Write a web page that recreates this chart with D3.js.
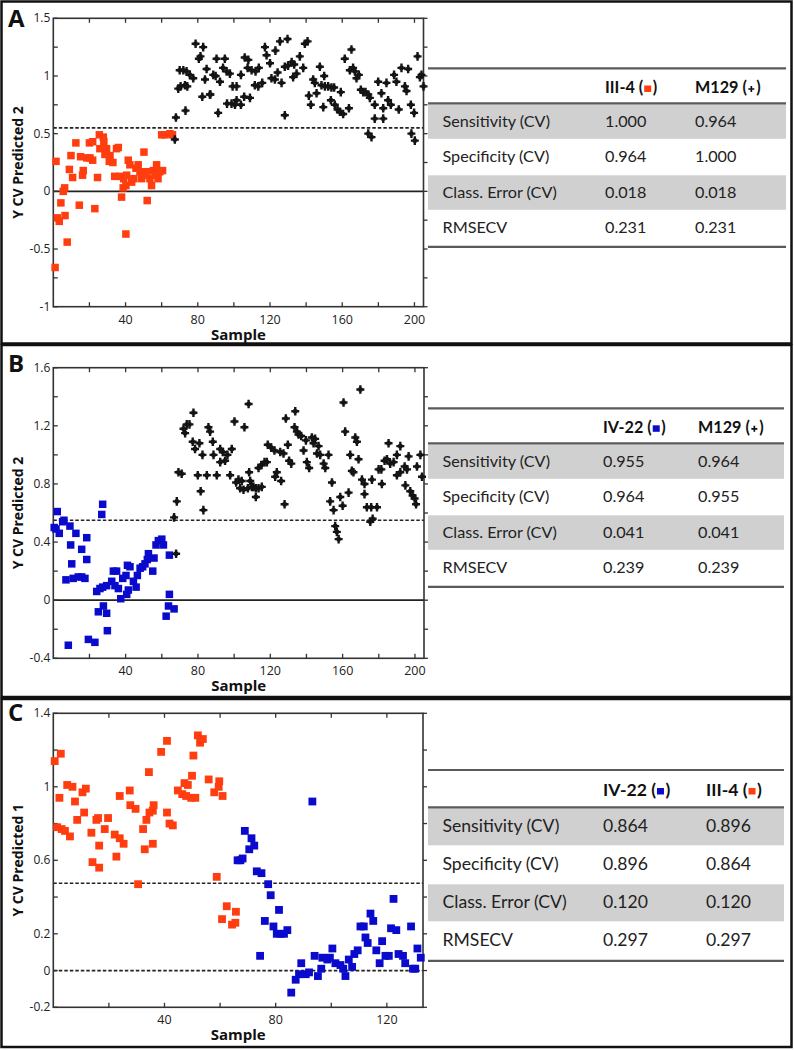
<!DOCTYPE html>
<html><head><meta charset="utf-8">
<script src="https://cdn.jsdelivr.net/npm/d3@7"></script>
<style>
html,body{margin:0;padding:0;background:#fff;}
svg{display:block;}
</style></head>
<body>
<svg id="chart" width="794" height="1050"></svg>
<script>
// ---------------- DATA ----------------
// Panel A: [sample, Y CV predicted 2]
const panelA_III4 = [[1,-0.66],[1.5,0.26],[2.2,-0.23],[3.3,-0.26],[4.2,-0.10],[5.5,0.0],[6.3,0.03],[6.5,-0.21],[7.7,-0.44],[8.9,0.19],[9.8,0.31],[10.7,0.12],[12.5,0.42],[14.4,-0.12],[15.1,0.30],[16.2,0.14],[16.6,0.18],[18.5,0.29],[20,0.42],[20.3,0.29],[21.8,0.43],[21.8,0.27],[23,-0.15],[24.5,0.12],[25.5,0.49],[25.8,0.37],[27.7,0.47],[28,0.43],[28.6,0.32],[29.5,0.37],[31,0.26],[31.4,0.31],[33,0.25],[34,0.13],[35,0.37],[36,0.38],[36.9,0.13],[37.8,-0.05],[38.7,0.03],[39,0.11],[40.2,-0.37],[40.2,0.05],[40.6,0.14],[41.5,0.27],[42.4,0.23],[43.4,0.08],[44.6,0.11],[45.8,0.20],[47,0.23],[48,0.17],[48.9,0.11],[50.2,0.34],[50.7,0.14],[51.7,0.17],[52,-0.08],[53.5,0.11],[54.4,0.05],[55.4,0.18],[56.3,0.14],[57.2,0.23],[58,0.11],[59,0.17],[60.5,0.18],[60,0.49],[61.8,0.49],[64.6,0.50],[66,0.49]];
const panelA_M129 = [[67.3,0.45],[67.9,0.64],[69.2,0.89],[70,1.05],[70.5,0.91],[72,1.05],[72.9,0.92],[73.2,0.70],[73.8,1.04],[74.2,0.91],[75.6,1.01],[77.5,0.98],[78.8,1.28],[80.6,1.15],[81.5,1.17],[82.5,0.82],[83,1.25],[84,0.97],[84.9,1.06],[86.7,0.84],[87,0.84],[88.6,1.01],[89.9,1.0],[90.4,1.15],[91.3,0.68],[92.3,0.95],[94,1.07],[95,1.15],[96,1.04],[96.2,0.76],[97.8,1.02],[98.7,0.76],[99.3,0.91],[100.6,0.75],[101.5,0.91],[101.5,0.79],[103.9,0.75],[103.9,1.01],[105.7,0.82],[106,1.16],[107.6,1.07],[108,1.14],[108.9,0.81],[109.8,1.05],[111.6,0.92],[112,1.04],[113.5,0.91],[113.8,1.07],[115.7,0.94],[117.2,1.25],[118.1,1.18],[120,1.11],[120.8,0.98],[122.7,0.97],[123,1.22],[124.2,1.03],[125.5,1.30],[126.4,0.94],[128.2,0.66],[128.2,1.08],[129.7,1.32],[130,1.09],[132,1.12],[132.8,0.99],[133.4,1.10],[134.7,1.02],[136.5,1.17],[138.4,1.07],[139.3,1.28],[140.8,1.30],[141.5,0.83],[142.6,0.75],[143.9,0.97],[144.8,0.94],[145.8,0.85],[147.6,1.08],[148.5,0.92],[149.5,0.73],[150,1.0],[150.4,0.91],[152.2,0.91],[153.7,0.79],[154,0.90],[155.5,0.90],[155.9,0.75],[157.4,0.71],[158.7,0.69],[159.2,0.86],[160.5,0.67],[161.4,1.15],[163.7,0.72],[164.2,1.05],[165.1,1.23],[166,1.07],[167,1.04],[167.9,0.98],[169.2,1.01],[170.3,0.88],[171.6,0.86],[172.9,0.86],[174.4,0.84],[174.4,0.50],[175.3,0.81],[176.2,0.47],[178,0.75],[178,0.63],[179.9,0.95],[181.7,0.85],[182.7,0.63],[182.7,0.72],[184.5,0.94],[185.4,0.79],[186.9,0.75],[188.7,1.01],[190,0.95],[191.3,0.71],[192.8,1.07],[194.7,0.91],[195.6,0.87],[196.5,1.06],[198,0.75],[198.3,0.50],[199.8,0.68],[200.2,0.44],[201.7,1.17],[203,0.99],[203.9,1.01],[205,0.91]];

// Panel B: [sample, Y CV predicted 2]
const panelB_IV22 = [[0.5,0.50],[1.5,0.49],[2.2,0.61],[3.3,0.46],[5.2,0.54],[5.9,0.55],[7,0.14],[8.3,-0.31],[9.2,0.51],[9.6,0.38],[10.2,0.25],[11,0.15],[12.5,0.46],[13.8,0.16],[15.7,0.16],[15.7,0.35],[17.5,0.15],[18.5,0.43],[18.5,0.28],[19.4,-0.27],[23,-0.29],[24,0.06],[24.9,-0.08],[25.8,0.08],[26.8,0.59],[27.3,0.66],[27.3,0.09],[27.7,-0.04],[29.5,-0.09],[29.5,0.10],[29.9,-0.21],[32.3,0.13],[33.2,0.20],[34.1,0.10],[35,0.20],[36,0.08],[37.3,0.01],[38.4,0.15],[40.2,0.17],[40.6,0.04],[41,0.24],[41.5,0.07],[42.4,0.23],[44.3,0.13],[45.8,0.09],[46.5,0.17],[48,0.22],[49.4,0.23],[50.7,0.25],[52,0.28],[52.6,0.32],[55,0.20],[55.7,0.29],[56.8,0.38],[58.1,0.41],[60,0.42],[60.9,0.38],[62.4,-0.11],[63.7,-0.04],[64.2,0.31],[64.2,0.04],[66.8,-0.06]];
const panelB_M129 = [[66.8,0.57],[67.9,0.32],[68.3,0.68],[69.2,0.88],[71,0.87],[72,1.18],[72.9,1.15],[73.8,1.21],[75.3,1.21],[77.1,1.09],[77.5,1.29],[78.4,1.04],[79.9,0.86],[80.8,1.08],[81.5,0.75],[82.5,1.0],[83,0.62],[84.9,0.86],[85.8,1.19],[86.7,1.16],[88.2,1.09],[88.6,1.0],[90.4,0.86],[92.3,1.04],[92.3,0.95],[93.7,1.02],[95,0.96],[96.3,1.0],[97.8,0.86],[98.7,1.04],[100.2,1.23],[101.1,0.81],[102.4,0.83],[103.3,0.77],[104.2,0.82],[105.2,0.76],[105.7,1.19],[107.6,0.77],[108,1.35],[108.3,0.88],[108.9,0.82],[109.8,0.78],[110.7,0.78],[112,0.77],[112,0.71],[113.5,0.77],[113.5,0.91],[115,0.93],[115.3,0.78],[116.8,0.95],[118.1,0.95],[118.6,1.07],[120.5,1.05],[122.3,1.03],[122.7,0.85],[123.6,0.88],[125.5,1.02],[126,0.82],[127.3,1.01],[127.9,0.66],[128.6,1.25],[129.7,1.07],[130.4,0.96],[131.6,0.94],[133.4,1.19],[133.8,1.30],[134.7,1.16],[135.6,1.14],[137.1,1.13],[138.4,1.03],[139.7,1.10],[140.2,0.95],[141.5,0.91],[143,1.12],[143.9,1.08],[144.8,1.11],[145.8,1.01],[146.7,1.06],[147.6,1.0],[149.5,0.94],[150.4,0.91],[152.2,1.0],[153.1,0.68],[154.1,0.81],[155,0.62],[155.9,0.51],[156.8,0.47],[157.8,0.42],[158.7,0.71],[160,0.65],[160.5,1.36],[161.4,1.16],[163.3,0.74],[164.2,1.0],[165.1,0.89],[166,0.88],[167,1.12],[167.9,1.09],[168.8,0.97],[169.8,1.45],[170.7,0.83],[172.1,0.80],[172.1,0.73],[173.4,0.64],[175.3,0.54],[175.8,0.64],[176.2,0.83],[176.6,0.56],[179,0.64],[179.9,0.90],[181.4,0.90],[181.7,0.80],[183.2,0.96],[184.5,0.97],[185.4,1.08],[186.3,0.94],[188.2,0.95],[190,1.0],[190,0.86],[191.9,1.06],[191.9,0.88],[194.3,0.92],[194.7,0.79],[195.6,0.90],[196.5,0.99],[197.4,0.75],[198.7,0.72],[199.8,0.70],[200.6,0.66],[201.1,0.92],[203,1.0],[203.9,0.85]];

// Panel C: [sample, Y CV predicted 1]
const panelC_III4 = [[0.5,1.14],[1.4,0.78],[2.2,0.94],[2.7,1.18],[3,0.77],[4.2,0.76],[5,1.01],[6,0.73],[6.9,1.0],[7.8,0.92],[8.6,0.82],[10.5,0.97],[11.1,0.86],[11.7,0.99],[13.7,0.75],[14.1,0.59],[15.5,0.82],[16.1,0.83],[16.5,0.68],[16.5,0.56],[18.5,0.77],[19.7,0.83],[22.1,0.74],[22.7,0.62],[23.9,0.72],[23.9,0.95],[25.3,0.69],[27.5,0.98],[27.7,0.90],[29.6,0.88],[30.5,0.47],[32.3,0.77],[32.9,0.66],[33.5,0.82],[34.4,1.08],[34.6,0.86],[35.8,0.87],[35.8,0.69],[36.1,0.90],[38.8,1.19],[40.9,1.25],[40.9,0.86],[41.8,0.80],[43,0.79],[44.8,0.98],[46.4,0.96],[47.2,1.02],[47.8,0.95],[48.4,1.01],[49.6,0.94],[49.9,1.06],[50.4,1.17],[51.1,0.94],[52,1.28],[52.8,1.24],[53.8,1.26],[55.9,1.04],[57.9,0.97],[58.8,0.51],[59.5,1.0],[59.7,1.03],[60.7,0.28],[60.9,0.95],[62.4,0.35],[64.3,0.25],[65.5,0.26],[65.7,0.32]];
const panelC_IV22 = [[66.3,0.60],[67.3,0.60],[68.1,0.61],[68.9,0.76],[70.5,0.66],[71.3,0.72],[72.3,0.68],[73.2,0.54],[74.4,0.08],[74.9,0.53],[76.1,0.27],[77.3,0.47],[78.2,0.41],[79.2,0.24],[80.4,0.20],[81.2,0.33],[81.8,0.20],[83,0.20],[84.2,0.22],[85.6,-0.12],[87.2,-0.05],[88.4,-0.02],[89.2,0.04],[90.8,-0.02],[92,-0.01],[93.2,0.92],[94,0.08],[95.2,-0.03],[96.4,0.01],[96.8,0.07],[98.6,0.06],[99.5,0.07],[100.4,0.12],[101.5,0.04],[103.3,0.03],[104.3,0.01],[105.1,-0.03],[106.3,0.06],[107.5,0.02],[108.3,0.09],[109.5,0.11],[110.5,0.24],[111.7,0.24],[112.3,0.18],[113.1,0.15],[114.1,0.31],[115.1,0.27],[116.2,0.11],[117.4,0.04],[118.3,0.16],[119.5,0.08],[120.7,0.08],[121.5,0.23],[122.4,0.39],[123.4,0.22],[124.2,0.09],[125.8,0.08],[126.6,0.04],[128.7,0.24],[129.4,0.01],[130.2,0.01],[131,0.12],[132.2,0.07]];

// Axis tick labels
const xTickLabelsAB = [40, 80, 120, 160, 200];
const xTickLabelsC = [40, 80, 120];
const yTickLabelsA = ["1.5","1","0.5","0","-0.5","-1"];
const yTickLabelsB = ["1.6","1.2","0.8","0.4","0","-0.4"];
const yTickLabelsC = ["1.4","1","0.6","0.2","0","-0.2"];

// Class thresholds
const thresholdA = 0.55, thresholdB = 0.55, thresholdC = 0.475;

// Table contents
const tableRowLabels = ["Sensitivity (CV)", "Specificity (CV)", "Class. Error (CV)", "RMSECV"];
const tableA_cols = ["III-4", "M129"];
const tableA_col1 = ["1.000", "0.964", "0.018", "0.231"];
const tableA_col2 = ["0.964", "1.000", "0.018", "0.231"];
const tableB_cols = ["IV-22", "M129"];
const tableB_col1 = ["0.955", "0.964", "0.041", "0.239"];
const tableB_col2 = ["0.964", "0.955", "0.041", "0.239"];
const tableC_cols = ["IV-22", "III-4"];
const tableC_col1 = ["0.864", "0.896", "0.120", "0.297"];
const tableC_col2 = ["0.896", "0.864", "0.120", "0.297"];

// ---------------- STYLE ----------------
const RED = "#ff3d0f", BLUE = "#0a0acc", INK = "#141414";
const svg = d3.select("#chart");
const tableFont = "Lato, 'Open Sans', sans-serif";
const axisFont = "'Open Sans', 'Noto Sans', sans-serif";

// Panel frames
[[1.5,1.5,790,342],[1.5,345,790,352],[1.5,699,790,348]].forEach(([x,y,w,h])=>{
  svg.append("rect").attr("x",x).attr("y",y).attr("width",w).attr("height",h)
    .attr("fill","none").attr("stroke","#111").attr("stroke-width",2.5);
});

function plusPath(g, data, x, y){
  g.selectAll(null).data(data).enter().append("path")
    .attr("d", d => { const cx=x(d[0]), cy=y(d[1]); return `M${cx-4},${cy}H${cx+4}M${cx},${cy-4.3}V${cy+4.3}`; })
    .attr("stroke", INK).attr("stroke-width", 2.4).attr("fill","none");
  g.selectAll(null).data(data).enter().append("rect")
    .attr("x", d=>x(d[0])-2).attr("y", d=>y(d[1])-2).attr("width",4).attr("height",4).attr("fill",INK);
}
function squares(g, data, x, y, color, s){
  g.selectAll(null).data(data).enter().append("rect")
    .attr("x", d=>x(d[0])-s/2).attr("y", d=>y(d[1])-s/2)
    .attr("width", s).attr("height", s).attr("fill", color);
}

function drawPanel(cfg){
  const g = svg.append("g");
  const x = d3.scaleLinear().domain(cfg.xDomain).range([cfg.left, cfg.right]);
  const y = d3.scaleLinear().domain(cfg.yDomain).range([cfg.bottom, cfg.top]);
  cfg.hlines.forEach(h => {
    g.append("line").attr("x1",cfg.left).attr("x2",cfg.right).attr("y1",y(h.v)).attr("y2",y(h.v))
      .attr("stroke", "#222").attr("stroke-width", 1.7)
      .attr("stroke-dasharray", h.dashed ? "3.5,2" : null);
  });
  g.append("rect").attr("x",cfg.left).attr("y",cfg.top).attr("width",cfg.right-cfg.left).attr("height",cfg.bottom-cfg.top)
    .attr("fill","none").attr("stroke","#333").attr("stroke-width",1.6);
  const xt = d3.range(cfg.xStep, cfg.xDomain[1]+0.001, cfg.xStep);
  xt.forEach(t => {
    g.append("line").attr("x1",x(t)).attr("x2",x(t)).attr("y1",cfg.bottom).attr("y2",cfg.bottom-4.5).attr("stroke","#333").attr("stroke-width",1.3);
    g.append("line").attr("x1",x(t)).attr("x2",x(t)).attr("y1",cfg.top).attr("y2",cfg.top+4.5).attr("stroke","#333").attr("stroke-width",1.3);
  });
  const yt = d3.range(cfg.yDomain[0], cfg.yDomain[1]+0.0001, cfg.yStep);
  yt.forEach(t => {
    g.append("line").attr("x1",cfg.left).attr("x2",cfg.left+4.5).attr("y1",y(t)).attr("y2",y(t)).attr("stroke","#333").attr("stroke-width",1.3);
    g.append("line").attr("x1",cfg.right).attr("x2",cfg.right+4).attr("y1",y(t)).attr("y2",y(t)).attr("stroke","#333").attr("stroke-width",1.3);
  });
  g.selectAll(null).data(cfg.xLabels).enter().append("text")
    .attr("x", d=>x(d)).attr("y", cfg.bottom+17).attr("text-anchor","middle")
    .attr("font-family",axisFont).attr("font-size",12.5).attr("fill","#222").text(d=>d);
  g.selectAll(null).data(cfg.yLabels).enter().append("text")
    .attr("x", cfg.left-3).attr("y", d=>y(+d)+4).attr("text-anchor","end")
    .attr("font-family",axisFont).attr("font-size",12).attr("fill","#222").text(d=>d);
  g.append("text").attr("x",(cfg.left+cfg.right)/2).attr("y",cfg.bottom+33).attr("text-anchor","middle")
    .attr("font-family",axisFont).attr("font-weight","bold").attr("font-size",15).attr("fill","#111").text("Sample");
  g.append("text").attr("transform",`translate(${23},${(cfg.top+cfg.bottom)/2}) rotate(-90)`).attr("text-anchor","middle")
    .attr("font-family",axisFont).attr("font-weight","bold").attr("font-size",14).attr("fill","#111").text(cfg.yTitle);
  svg.append("text").attr("x",8).attr("y",cfg.letterY).attr("font-family","'Open Sans', sans-serif")
    .attr("font-weight","bold").attr("font-size",24).attr("fill","#111").text(cfg.letter);
  cfg.series.forEach(s => {
    if (s.type==="plus") plusPath(g, s.data, x, y);
    else squares(g, s.data, x, y, s.color, s.size);
  });
}

drawPanel({letter:"A", letterY:27, left:53.3, right:423.5, top:18.3, bottom:306.7,
  xDomain:[0,205], yDomain:[-1,1.5], xStep:20, yStep:0.25,
  xLabels:xTickLabelsAB, yLabels:yTickLabelsA, yTitle:"Y CV Predicted 2",
  hlines:[{v:0,dashed:false},{v:thresholdA,dashed:true}],
  series:[{type:"sq",data:panelA_III4,color:RED,size:7.5},{type:"plus",data:panelA_M129}]});

drawPanel({letter:"B", letterY:372, left:53.3, right:424, top:367.7, bottom:658.3,
  xDomain:[0,205], yDomain:[-0.4,1.6], xStep:20, yStep:0.2,
  xLabels:xTickLabelsAB, yLabels:yTickLabelsB, yTitle:"Y CV Predicted 2",
  hlines:[{v:0,dashed:false},{v:thresholdB,dashed:true}],
  series:[{type:"sq",data:panelB_IV22,color:BLUE,size:7.5},{type:"plus",data:panelB_M129}]});

drawPanel({letter:"C", letterY:721, left:53.3, right:423, top:713.3, bottom:1007.3,
  xDomain:[0,133], yDomain:[-0.2,1.4], xStep:20, yStep:0.2,
  xLabels:xTickLabelsC, yLabels:yTickLabelsC, yTitle:"Y CV Predicted 1",
  hlines:[{v:0,dashed:true},{v:thresholdC,dashed:true}],
  series:[{type:"sq",data:panelC_III4,color:RED,size:7.8},{type:"sq",data:panelC_IV22,color:BLUE,size:7.8}]});

// ---------------- TABLES ----------------
function drawTable(t){
  const g = svg.append("g");
  const rowH = t.rowH;
  const rowTop = t.headerLine;
  [0,2].forEach(i => {
    g.append("rect").attr("x",t.left).attr("y",rowTop+i*rowH+1).attr("width",t.right-t.left).attr("height",rowH-1)
      .attr("fill","#d0d0d0");
  });
  [t.top, t.headerLine, rowTop+4*rowH+1.5].forEach(yy => {
    g.append("line").attr("x1",t.left).attr("x2",t.right).attr("y1",yy).attr("y2",yy)
      .attr("stroke","#5a5a5a").attr("stroke-width",2.2);
  });
  t.cols.forEach((name,i) => {
    const cx = t.colX[i];
    const tx = g.append("text").attr("x",cx).attr("y",t.headerY+5.5).attr("font-family",tableFont)
      .attr("font-weight","bold").attr("font-size",t.fs).attr("fill","#111").text(name+" (");
    const w = tx.node().getComputedTextLength();
    const m = t.markers[i];
    const mx = cx + w + 4.5, my = t.headerY;
    if (m.type==="plus") {
      g.append("path").attr("d",`M${mx-3},${my+1.5}H${mx+3}M${mx},${my-1.5}V${my+4.5}`).attr("stroke","#111").attr("stroke-width",1.7);
    } else {
      g.append("rect").attr("x",mx-3.5).attr("y",my-2).attr("width",7).attr("height",6.5).attr("fill",m.color);
    }
    g.append("text").attr("x",mx+5).attr("y",t.headerY+5.5).attr("font-family",tableFont)
      .attr("font-weight","bold").attr("font-size",t.fs).attr("fill","#111").text(")");
  });
  tableRowLabels.forEach((lab,i) => {
    const cy = rowTop + i*rowH + rowH/2 + 5.5;
    g.append("text").attr("x",t.labelX).attr("y",cy).attr("font-family",tableFont).attr("font-size",t.fs).attr("fill","#222").text(lab);
    g.append("text").attr("x",t.valX[0]).attr("y",cy).attr("font-family",tableFont).attr("font-size",t.fs).attr("fill","#222").text(t.v1[i]);
    g.append("text").attr("x",t.valX[1]).attr("y",cy).attr("font-family",tableFont).attr("font-size",t.fs).attr("fill","#222").text(t.v2[i]);
  });
}

drawTable({left:428, right:786, top:68.3, headerY:87.5, headerLine:103.3, rowH:35.5, fs:16.2,
  labelX:442.5, colX:[605,695], valX:[605,695], cols:tableA_cols,
  markers:[{type:"sq",color:RED},{type:"plus"}], v1:tableA_col1, v2:tableA_col2});
drawTable({left:428, right:784, top:408.3, headerY:427.3, headerLine:443.3, rowH:35.5, fs:16.2,
  labelX:442.5, colX:[603,698], valX:[603,698], cols:tableB_cols,
  markers:[{type:"sq",color:BLUE},{type:"plus"}], v1:tableB_col1, v2:tableB_col2});
drawTable({left:428, right:784, top:770, headerY:790, headerLine:807.3, rowH:38, fs:17.6,
  labelX:442.5, colX:[603,706], valX:[603,706], cols:tableC_cols,
  markers:[{type:"sq",color:BLUE},{type:"sq",color:RED}], v1:tableC_col1, v2:tableC_col2});
</script>
</body></html>
